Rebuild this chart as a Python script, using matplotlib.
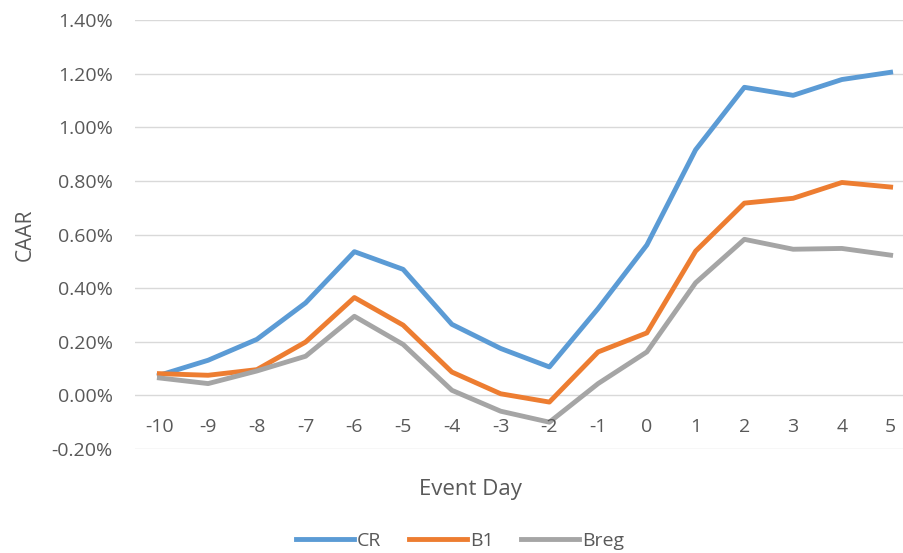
import numpy as np
import matplotlib.pyplot as plt
from matplotlib.ticker import FuncFormatter

days = [-10, -9, -8, -7, -6, -5, -4, -3, -2, -1, 0, 1, 2, 3, 4, 5]
cr = [0.075, 0.131, 0.209, 0.345, 0.536, 0.470, 0.265, 0.175, 0.106, 0.324, 0.561, 0.916, 1.149, 1.119, 1.178, 1.205]
b1 = [0.081, 0.075, 0.096, 0.199, 0.365, 0.262, 0.087, 0.006, -0.025, 0.162, 0.233, 0.538, 0.717, 0.735, 0.794, 0.777]
breg = [0.065, 0.044, 0.091, 0.146, 0.295, 0.190, 0.019, -0.059, -0.100, 0.044, 0.162, 0.420, 0.582, 0.545, 0.548, 0.523]
yticks = [-0.2, 0.0, 0.2, 0.4, 0.6, 0.8, 1.0, 1.2, 1.4]

text_color = "#595959"
plt.rcParams['font.family'] = ['Open Sans', 'DejaVu Sans']


def main():
    fig = plt.figure(figsize=(9.04, 5.53), dpi=100)
    ax = fig.add_axes([135 / 904, 104 / 553, 780 / 904, 429 / 553])

    x = np.arange(len(days))
    ax.plot(x, cr, color="#5B9BD5", lw=3.5, label="CR", solid_joinstyle="round")
    ax.plot(x, b1, color="#ED7D31", lw=3.5, label="B1", solid_joinstyle="round")
    ax.plot(x, breg, color="#A5A5A5", lw=3.5, label="Breg", solid_joinstyle="round")

    ax.set_xlim(-0.5, len(days) - 0.5)
    ax.set_ylim(-0.2, 1.4)
    ax.set_yticks(yticks)
    ax.yaxis.set_major_formatter(FuncFormatter(lambda v, p: f"{v:.2f}%"))
    ax.grid(axis="y", color="#D9D9D9", lw=1)
    ax.set_axisbelow(True)
    for s in ax.spines.values():
        s.set_visible(False)
    ax.set_xticks([])
    ax.tick_params(axis="y", length=0, pad=16, labelsize=14, labelcolor=text_color)

    # category labels sit just under the zero line
    for i, d in enumerate(days):
        ax.annotate(str(d), xy=(i, 0), xytext=(0, -23), textcoords="offset points",
                    ha="center", va="center", fontsize=14, color=text_color)

    fig.text(25 / 904, 1 - 235 / 553, "CAAR", rotation=90, ha="center", va="center",
             fontsize=15, color=text_color)
    fig.text(470 / 904, 1 - 490 / 553, "Event Day", ha="center", va="center",
             fontsize=16, color=text_color)

    fig.legend(loc="center", bbox_to_anchor=(460 / 904, 1 - 541 / 553), ncol=3,
               frameon=False, fontsize=14, handlelength=3.0, handletextpad=0.15,
               columnspacing=1.4, labelcolor=text_color)

    fig.savefig("out.png", dpi=100)


if __name__ == "__main__":
    main()
